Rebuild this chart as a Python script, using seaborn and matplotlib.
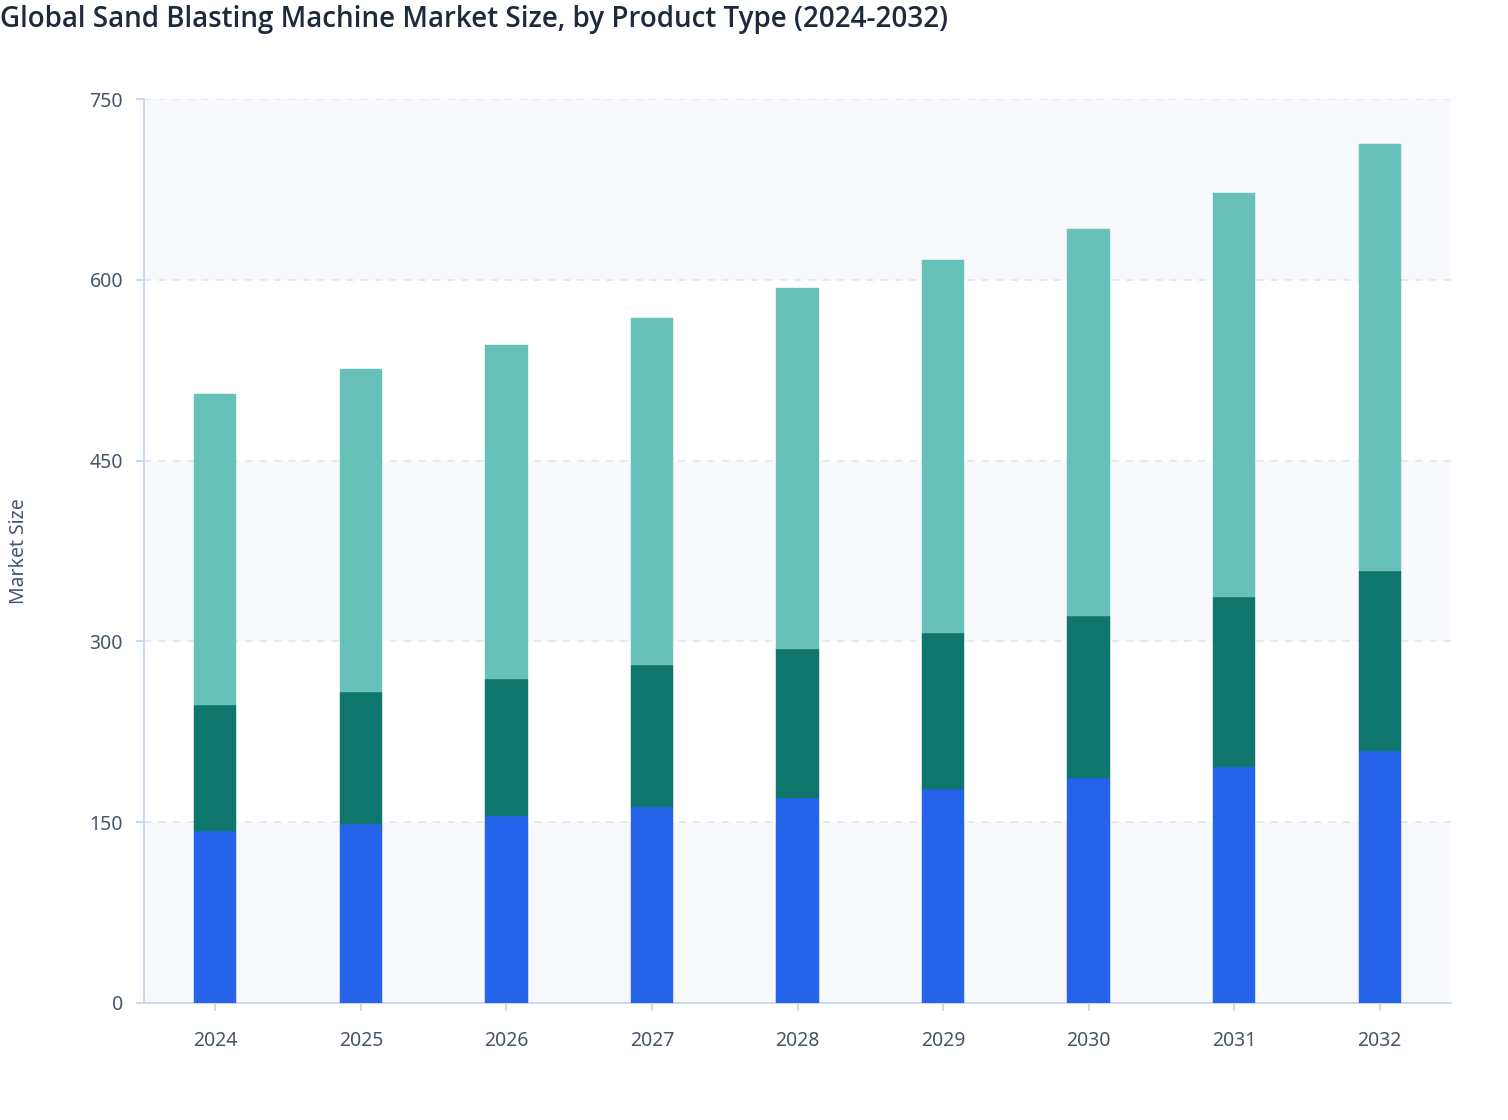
import numpy as np
import pandas as pd
import seaborn as sns
import matplotlib.pyplot as plt
from matplotlib import font_manager as fm

years = ['2024', '2025', '2026', '2027', '2028', '2029', '2030', '2031', '2032']
seg_blue = [142.7, 148.5, 155.1, 162.6, 170.1, 177.6, 186.7, 195.8, 209.1]
seg_dark = [104.5, 109.5, 113.7, 117.8, 123.6, 129.4, 134.4, 141.0, 149.3]
seg_light = [258.1, 268.0, 277.1, 287.9, 299.5, 309.4, 321.1, 335.2, 354.3]
yticks = [0, 150, 300, 450, 600, 750]

df = pd.DataFrame({'year': years, 'blue': seg_blue, 'dark': seg_dark, 'light': seg_light})

sns.set_style('white')
plt.rcParams['font.family'] = ['Noto Sans', 'DejaVu Sans']

fig = plt.figure(figsize=(15.08, 11.2), dpi=100)
ax = fig.add_axes([0.0955, 0.1045, 0.8667, 0.8071])
ax.set_facecolor('white')

axis_col = '#c5d5ef'
txt_col = '#475569'

# alternating background bands
for i, (lo, hi) in enumerate(zip(yticks[:-1], yticks[1:])):
    if i % 2 == 0:
        ax.axhspan(lo, hi, color='#f7f9fc', zorder=0, lw=0)

bw = 0.29
sns.barplot(data=df, x='year', y='blue', color='#2563eb', width=bw, saturation=1,
            ax=ax, zorder=3, edgecolor='#2563eb', linewidth=0.3)
sns.barplot(data=df, x='year', y='dark', bottom=df['blue'], color='#0f766e', width=bw,
            saturation=1, ax=ax, zorder=3, edgecolor='#0f766e', linewidth=0.3)
sns.barplot(data=df, x='year', y='light', bottom=df['blue'] + df['dark'], color='#68c1b9',
            width=bw, saturation=1, ax=ax, zorder=3, edgecolor='#68c1b9', linewidth=0.3)

ax.set_xlim(-0.49, 8.49)
ax.set_ylim(0, 750)
ax.set_yticks(yticks)
ax.set_yticklabels([str(t) for t in yticks])
for t in yticks[1:]:
    ax.axhline(t, color='#e2e8f0', lw=1.3, ls=(0, (4, 4)), zorder=1)

for s in ['top', 'right']:
    ax.spines[s].set_visible(False)
for s in ['left', 'bottom']:
    ax.spines[s].set_color(axis_col)
    ax.spines[s].set_linewidth(1.3)

ax.tick_params(axis='both', which='major', direction='out', length=6, width=1.3,
               color=axis_col, labelcolor=txt_col, labelsize=14, left=True, bottom=True)
ax.tick_params(axis='x', pad=14)
ax.tick_params(axis='y', pad=9)

ax.set_xlabel('')
ax.set_ylabel('Market Size', color=txt_col, fontsize=14)
ax.yaxis.set_label_coords(-0.088, 0.5)

names = {f.name for f in fm.fontManager.ttflist}
title_fam = ['Open Sans', 'DejaVu Sans'] if 'Open Sans' in names else ['Noto Sans', 'DejaVu Sans']
fig.text(0.0, 0.983, 'Global Sand Blasting Machine Market Size, by Product Type (2024-2032)',
         fontsize=20, fontweight='semibold', family=title_fam,
         color='#1e293b', ha='left', va='center')

fig.savefig('out.png', dpi=100, facecolor='white')
